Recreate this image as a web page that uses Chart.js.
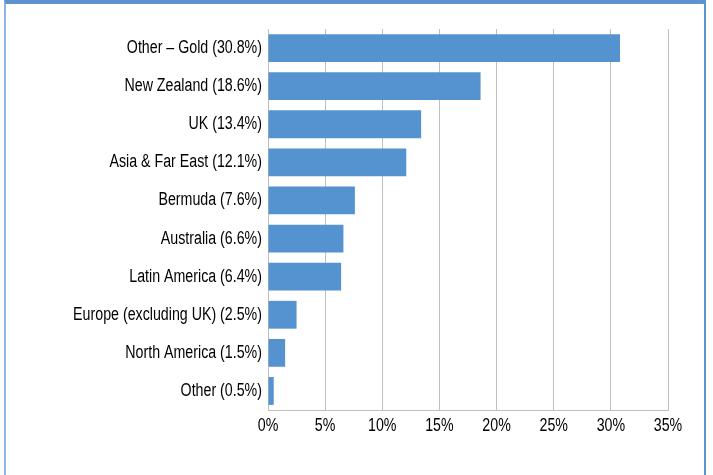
<!DOCTYPE html>
<html>
<head>
<meta charset="utf-8">
<script src="https://cdn.jsdelivr.net/npm/chart.js@4"></script>
<style>
  html, body { margin: 0; padding: 0; background: #fff; }
  #frame {
    position: absolute; left: 4px; top: 0; width: 698px; height: 475px;
    border-top: 4px solid #5b93d1; border-left: 2px solid #8db5e2; border-right: 2px solid #5b93d1;
    box-sizing: content-box;
  }
  #wrap { position: absolute; left: 0; top: 0; width: 713px; height: 475px; }
</style>
</head>
<body>
<div id="frame"></div>
<div id="wrap"><canvas id="chart"></canvas></div>
<script>
// regiones y su porcentaje
var regions = ["Other – Gold (30.8%)", "New Zealand (18.6%)", "UK (13.4%)", "Asia & Far East (12.1%)",
    "Bermuda (7.6%)", "Australia (6.6%)", "Latin America (6.4%)", "Europe (excluding UK) (2.5%)",
    "North America (1.5%)", "Other (0.5%)"];
var shares = [30.8, 18.6, 13.4, 12.1, 7.6, 6.6, 6.4, 2.5, 1.5, 0.5];
var xTicks = [0, 5, 10, 15, 20, 25, 30, 35];

var labelFont = { family: "'Liberation Sans', Arial, sans-serif", size: 18 };
var squeeze = 0.79; // letra estrecha (condensada)

// comprime el texto horizontalmente para imitar una fuente condensada
var narrowText = {
    id: "narrowText",
    beforeDraw: function(chart) {
        var c = chart.ctx;
        if (c._origFill) return;
        c._origFill = c.fillText;
        c.fillText = function(t, x, y, mw) {
            var w = this.measureText(t).width * squeeze;
            return c._origFill.call(this, t, x, y, mw !== undefined ? Math.min(mw, w) : w);
        };
    }
};

document.addEventListener("DOMContentLoaded", function() {
    var ctx = document.getElementById("chart").getContext("2d");
    new Chart(ctx, {
        type: "bar",
        data: {
            labels: regions,
            datasets: [{
                data: shares,
                backgroundColor: "#5592d0",
                borderWidth: 0,
                barPercentage: 0.73,
                categoryPercentage: 1
            }]
        },
        options: {
            indexAxis: "y",
            responsive: true,
            maintainAspectRatio: false,
            animation: false,
            layout: { padding: { left: 0, right: 45, top: 29, bottom: 35 } },
            plugins: { legend: { display: false }, tooltip: { enabled: false } },
            scales: {
                x: {
                    min: 0,
                    max: 35,
                    afterBuildTicks: function(s) { s.ticks = xTicks.map(function(v) { return { value: v }; }); },
                    afterFit: function(s) { s.height = 30; },
                    grid: { color: "#bfbfbf", lineWidth: 1, drawTicks: false },
                    border: { color: "#bfbfbf" },
                    ticks: {
                        color: "#000",
                        padding: 5,
                        font: labelFont,
                        callback: function(v) { return v + "%"; }
                    }
                },
                y: {
                    afterFit: function(s) { s.width = 268; },
                    grid: { display: false, drawTicks: false },
                    border: { color: "#bfbfbf" },
                    ticks: {
                        color: "#000",
                        padding: 6,
                        font: labelFont
                    }
                }
            }
        },
        plugins: [narrowText]
    });
});
</script>
</body>
</html>
